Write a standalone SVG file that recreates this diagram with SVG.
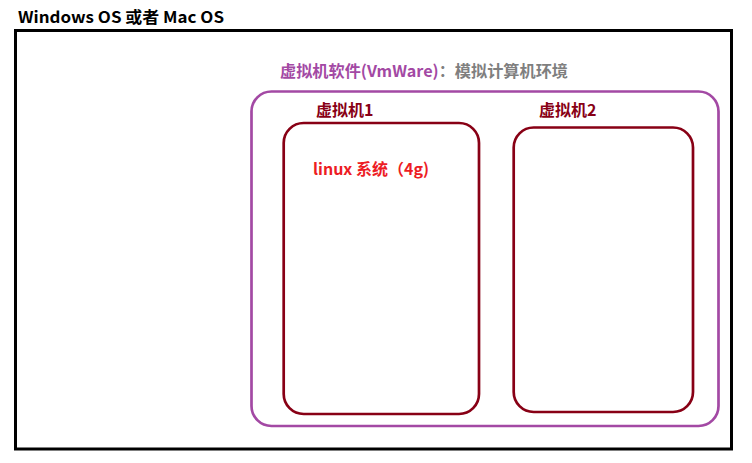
<svg xmlns="http://www.w3.org/2000/svg" width="752" height="463" viewBox="0 0 752 463">
<style>
text{font-family:"Noto Sans CJK SC","Noto Sans",sans-serif;font-weight:bold;font-size:16px}
.vm{fill:none;stroke:#880015;stroke-width:2.7}
.vmt{fill:#880015}
</style>
<rect width="752" height="463" fill="#fff"/>
<g id="host">
<rect x="15.5" y="30.5" width="716" height="418.5" fill="none" stroke="#000" stroke-width="3"/>
<text x="18" y="23" fill="#000" textLength="206" lengthAdjust="spacingAndGlyphs">Windows OS 或者 Mac OS</text>
</g>
<g id="vmware">
<rect x="251.5" y="91.5" width="467" height="334.5" rx="20" fill="none" stroke="#A349A4" stroke-width="2.7"/>
<text x="280" y="77" textLength="288" lengthAdjust="spacingAndGlyphs"><tspan fill="#A349A4">虚拟机软件(VmWare)</tspan><tspan fill="#7F7F7F">：模拟计算机环境</tspan></text>
</g>
<g id="vm1">
<rect class="vm" x="283.7" y="123" width="195.3" height="291" rx="20"/>
<text class="vmt" x="316" y="116">虚拟机1</text>
<text x="313" y="175" fill="#ED1C24">linux 系统（4g)</text>
</g>
<g id="vm2">
<rect class="vm" x="513.7" y="127.5" width="179.3" height="284.5" rx="20"/>
<text class="vmt" x="539" y="116">虚拟机2</text>
</g>
<g id="connectors"/>
</svg>
